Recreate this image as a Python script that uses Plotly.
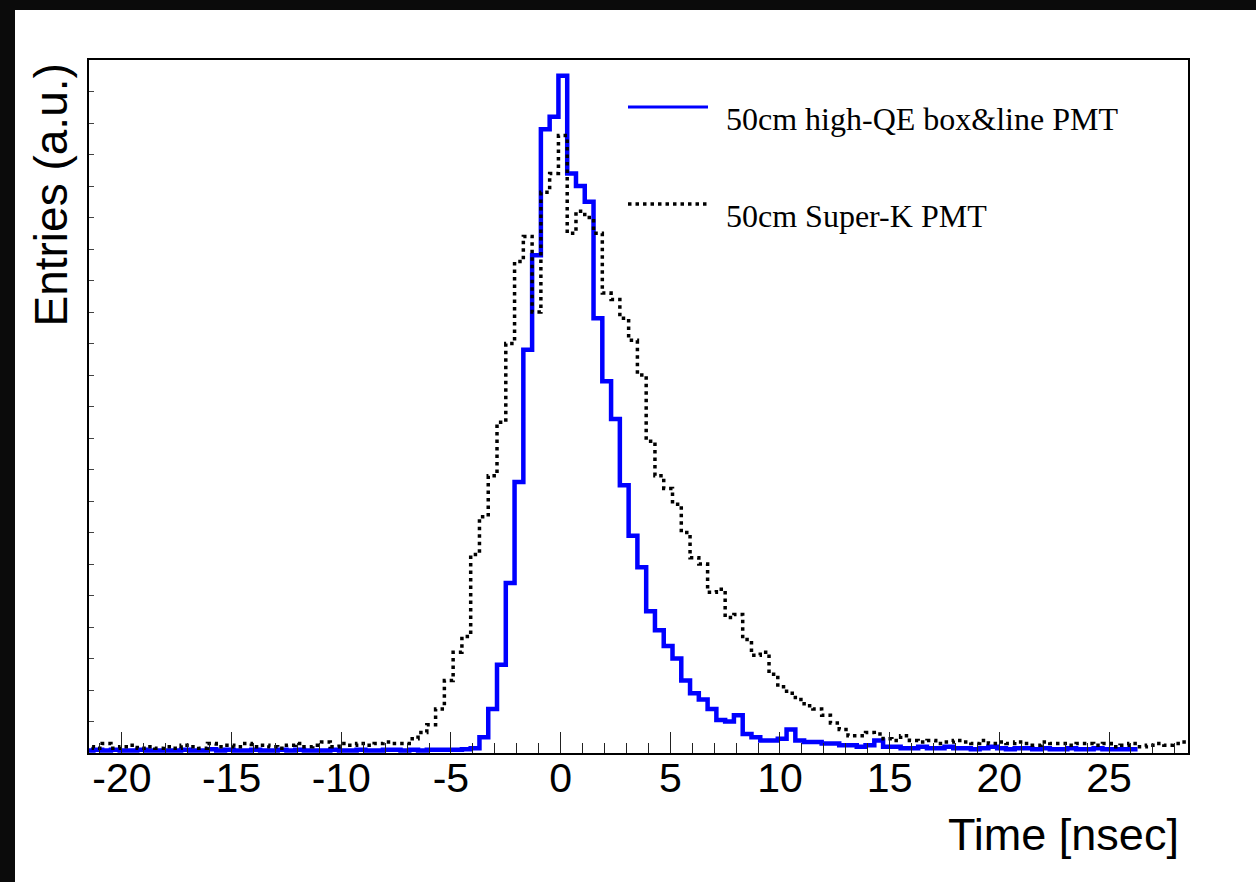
import numpy as np
import plotly.graph_objects as go

# ---------------- data ----------------
bin_start = -21.7          # left edge of first bin [ns]
bin_width = 0.4            # bin width [ns]

# 50cm high-QE box&line PMT (blue, solid) -- bin contents, a.u.
blue_values = [
    # centers -21.5 ... -4.3
    0.08, 0.10, 0.08, 0.10, 0.08, 0.08, 0.10, 0.08, 0.08, 0.08,
    0.08, 0.10, 0.08, 0.08, 0.12, 0.08, 0.10, 0.08, 0.08, 0.10,
    0.08, 0.08, 0.10, 0.08, 0.10, 0.08, 0.08, 0.08, 0.10, 0.08,
    0.08, 0.10, 0.08, 0.08, 0.10, 0.10, 0.08, 0.10, 0.08, 0.10,
    0.10, 0.10, 0.10, 0.12,
    # centers -3.9 ... 14.9
    0.15, 0.5, 1.4, 2.8, 5.4, 8.6, 12.8, 15.8, 19.8, 20.2,
    21.5, 18.4, 18.0, 17.5, 13.8, 11.8, 10.6, 8.5, 6.9, 5.9,
    4.5, 3.9, 3.4, 3.0, 2.3, 1.9, 1.7, 1.4, 1.05, 1.0,
    1.2, 0.6, 0.5, 0.4, 0.4, 0.45, 0.75, 0.4, 0.35, 0.35,
    0.3, 0.3, 0.25, 0.25, 0.2, 0.25, 0.4, 0.2,
    # centers 15.3 ... 26.1
    0.2, 0.15, 0.15, 0.2, 0.15, 0.15, 0.2, 0.15, 0.15, 0.12,
    0.15, 0.2, 0.15, 0.12, 0.15, 0.15, 0.12, 0.15, 0.12, 0.12,
    0.15, 0.12, 0.12, 0.15, 0.12, 0.12, 0.12, 0.12,
]

# 50cm Super-K PMT (black, dotted) -- bin contents, a.u.
black_values = [
    # centers -21.5 ... -7.5
    0.2, 0.15, 0.3, 0.15, 0.2, 0.25, 0.15, 0.2, 0.15, 0.2,
    0.15, 0.25, 0.2, 0.15, 0.3, 0.2, 0.25, 0.2, 0.3, 0.2,
    0.25, 0.2, 0.15, 0.25, 0.3, 0.2, 0.25, 0.35, 0.2, 0.3,
    0.25, 0.3, 0.25, 0.3, 0.35, 0.3,
    # centers -7.1 ... 16.1
    0.3, 0.45, 0.65, 0.9, 1.4, 2.3, 3.2, 3.7, 6.3, 7.5,
    8.8, 10.5, 13.0, 15.6, 16.4, 14.0, 17.8, 18.4, 19.6, 16.5,
    17.2, 17.0, 16.5, 14.6, 14.4, 13.8, 13.1, 12.0, 9.9, 8.8,
    8.4, 7.9, 7.0, 6.2, 6.0, 5.1, 5.2, 4.3, 4.4, 3.6,
    3.1, 3.2, 2.5, 2.1, 1.9, 1.7, 1.5, 1.4, 1.2, 0.95,
    0.75, 0.55, 0.55, 0.65, 0.6, 0.45, 0.4, 0.55, 0.4,
    # centers 16.5 ... 28.5
    0.35, 0.4, 0.3, 0.35, 0.4, 0.35, 0.3, 0.4, 0.3, 0.35,
    0.3, 0.35, 0.3, 0.25, 0.35, 0.3, 0.3, 0.25, 0.3, 0.3,
    0.25, 0.3, 0.2, 0.25, 0.3, 0.2, 0.25, 0.3, 0.25, 0.3, 0.35,
]

series_names = ["50cm high-QE box&line PMT", "50cm Super-K PMT"]
x_tick_vals = [-20, -15, -10, -5, 0, 5, 10, 15, 20, 25]
x_tick_text = ["-20", "-15", "-10", "-5", "0", "5", "10", "15", "20", "25"]
x_title = "Time [nsec]"
y_title = "Entries (a.u.)"
x_range = [-21.5, 28.6]
y_range = [0, 22]


def step_xy(values):
    edges = bin_start + bin_width * np.arange(len(values) + 1)
    y = list(values) + [values[-1]]
    return edges, y


fig = go.Figure()
bx, by = step_xy(blue_values)
fig.add_trace(go.Scatter(x=bx, y=by, mode="lines", line_shape="hv",
                         line=dict(color="#0000ff", width=4.5),
                         name=series_names[0], showlegend=False))
kx, ky = step_xy(black_values)
fig.add_trace(go.Scatter(x=kx, y=ky, mode="lines", line_shape="hv",
                         line=dict(color="#000000", width=3.5, dash="3.5px,4px"),
                         name=series_names[1], showlegend=False))

# plot area geometry in pixels (for layout placement only)
W, H = 1256, 882
L, R, T, B = 89, 68, 60, 129
pw, ph = W - L - R, H - T - B


def px(x):
    return (x - L) / pw


def py(y):
    return (H - B - y) / ph


shapes = [
    # white panel on dark background
    dict(type="rect", xref="paper", yref="paper", layer="below",
         x0=px(15), x1=px(W + 20), y0=py(H + 20), y1=py(10),
         fillcolor="white", line=dict(width=0)),
    # legend samples
    dict(type="line", xref="paper", yref="paper",
         x0=px(628), x1=px(708), y0=py(107), y1=py(107),
         line=dict(color="#0000ff", width=3)),
    dict(type="line", xref="paper", yref="paper",
         x0=px(628), x1=px(708), y0=py(204), y1=py(204),
         line=dict(color="#000000", width=3.5, dash="3.5px,4px")),
]

annotations = [
    dict(text=series_names[0], xref="paper", yref="paper", x=px(724), y=py(119),
         xanchor="left", yanchor="middle", showarrow=False,
         font=dict(family="Liberation Serif", size=32, color="black")),
    dict(text=series_names[1], xref="paper", yref="paper", x=px(724), y=py(216),
         xanchor="left", yanchor="middle", showarrow=False,
         font=dict(family="Liberation Serif", size=32, color="black")),
    dict(text=x_title, xref="paper", yref="paper", x=px(1181), y=py(834),
         xanchor="right", yanchor="middle", showarrow=False,
         font=dict(family="Liberation Sans", size=45, color="black")),
    dict(text=y_title, xref="paper", yref="paper", x=px(50), y=py(62),
         xanchor="center", yanchor="top", textangle=-90, showarrow=False,
         font=dict(family="Liberation Sans", size=46, color="black")),
]

fig.update_layout(
    width=W, height=H, autosize=False,
    margin=dict(l=L, r=R, t=T, b=B, pad=0),
    paper_bgcolor="#0b0b0b", plot_bgcolor="white",
    shapes=shapes, annotations=annotations, showlegend=False,
    xaxis=dict(range=x_range, tickmode="array", tickvals=x_tick_vals, ticktext=x_tick_text,
               ticks="inside", ticklen=21, tickwidth=1, tickcolor="#222",
               ticklabelstandoff=-12,
               minor=dict(dtick=1, tick0=0, ticks="inside", ticklen=10, tickwidth=1, tickcolor="#222"),
               showline=True, linecolor="black", linewidth=2, mirror=True,
               showgrid=False, zeroline=False,
               tickfont=dict(family="Liberation Sans", size=41, color="black")),
    yaxis=dict(range=y_range, tickmode="linear", tick0=0, dtick=1,
               ticks="inside", ticklen=5, tickwidth=1, tickcolor="#444",
               showticklabels=False,
               showline=True, linecolor="black", linewidth=2, mirror=True,
               showgrid=False, zeroline=False),
)

fig.write_html("out.html")
